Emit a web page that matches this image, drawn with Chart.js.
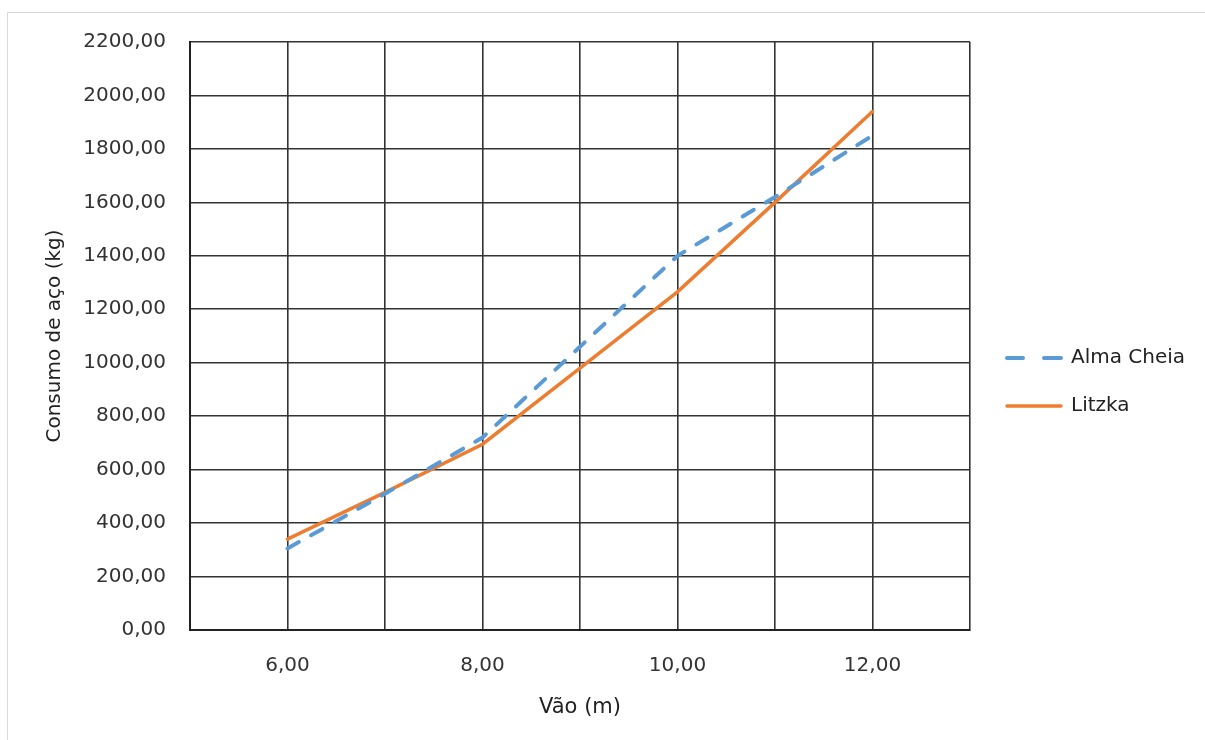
<!DOCTYPE html>
<html>
<head>
<meta charset="utf-8">
<script src="https://cdn.jsdelivr.net/npm/chart.js@4.4.0/dist/chart.umd.min.js"></script>
<style>
  html, body { margin: 0; padding: 0; background: #fff; }
  #wrap { width: 1205px; height: 740px; position: relative; }
</style>
</head>
<body>
<div id="wrap"><canvas id="chart" width="1205" height="740"></canvas></div>
<script>
// ===== DATA =====
const spans = [6, 7, 8, 9, 10, 11, 12];
const almaCheia = [305, 510, 720, 1060, 1400, 1620, 1850];
const litzka = [340, 515, 695, 980, 1265, 1600, 1940];
const seriesNames = ["Alma Cheia", "Litzka"];

const fmt = v => v.toFixed(2).replace(".", ",");
const font = "'DejaVu Sans', sans-serif";

// outer light frame + custom legend on the right
const framePlugin = {
  id: "frame",
  beforeDraw(chart) {
    const ctx = chart.ctx;
    ctx.save();
    ctx.fillStyle = "#fff";
    ctx.fillRect(0, 0, chart.width, chart.height);
    ctx.strokeStyle = "#d9d9d9";
    ctx.lineWidth = 1;
    ctx.strokeRect(7.5, 12.5, 1400, 900);
    ctx.restore();
  },
  afterDraw(chart) {
    const ctx = chart.ctx;
    const rows = [358, 406];
    ctx.save();
    chart.data.datasets.forEach((ds, i) => {
      const y = rows[i];
      ctx.strokeStyle = ds.borderColor;
      ctx.lineWidth = ds.borderWidth;
      ctx.lineCap = "round";
      ctx.beginPath();
      if (ds.borderDash) {
        ctx.moveTo(1007, y); ctx.lineTo(1023, y);
        ctx.moveTo(1044, y); ctx.lineTo(1061, y);
      } else {
        ctx.moveTo(1007, y); ctx.lineTo(1061, y);
      }
      ctx.stroke();
      ctx.fillStyle = "#222";
      ctx.font = "20px " + font;
      ctx.textBaseline = "middle";
      ctx.fillText(ds.label, 1071, y);
    });
    ctx.restore();
  }
};

new Chart(document.getElementById("chart"), {
  type: "line",
  data: {
    labels: spans,
    datasets: [
      {
        label: seriesNames[0],
        data: spans.map((x, i) => ({ x: x, y: almaCheia[i] })),
        borderColor: "#5B9BD5",
        borderWidth: 4,
        borderDash: [13, 14],
        borderCapStyle: "round",
        pointRadius: 0,
        tension: 0,
        fill: false
      },
      {
        label: seriesNames[1],
        data: spans.map((x, i) => ({ x: x, y: litzka[i] })),
        borderColor: "#ED7D31",
        borderWidth: 3.5,
        borderCapStyle: "round",
        pointRadius: 0,
        tension: 0,
        fill: false
      }
    ]
  },
  options: {
    responsive: false,
    animation: false,
    layout: { padding: { top: 42, right: 235, left: 0, bottom: 0 } },
    plugins: {
      legend: { display: false },
      tooltip: { enabled: false }
    },
    scales: {
      x: {
        type: "linear",
        min: 5,
        max: 13,
        afterFit(scale) { scale.height = 110; },
        ticks: {
          stepSize: 1,
          padding: 24,
          color: "#333",
          font: { family: font, size: 20 },
          callback: v => (v % 2 === 0 ? fmt(v) : "")
        },
        grid: { color: "#333", lineWidth: 1.6, drawTicks: false },
        border: { color: "#222", width: 2 },
        title: {
          display: true,
          text: "Vão (m)",
          color: "#222",
          font: { family: font, size: 21 },
          padding: { top: 0, bottom: 20 }
        }
      },
      y: {
        min: 0,
        max: 2200,
        afterFit(scale) { scale.width = 190; },
        ticks: {
          stepSize: 200,
          padding: 24,
          color: "#333",
          font: { family: font, size: 20 },
          callback: v => fmt(v)
        },
        grid: { color: "#333", lineWidth: 1.6, drawTicks: false },
        border: { color: "#222", width: 2 },
        title: {
          display: true,
          text: "Consumo de aço (kg)",
          color: "#222",
          font: { family: font, size: 20 },
          padding: { top: 43 }
        }
      }
    }
  },
  plugins: [framePlugin]
});
</script>
</body>
</html>
